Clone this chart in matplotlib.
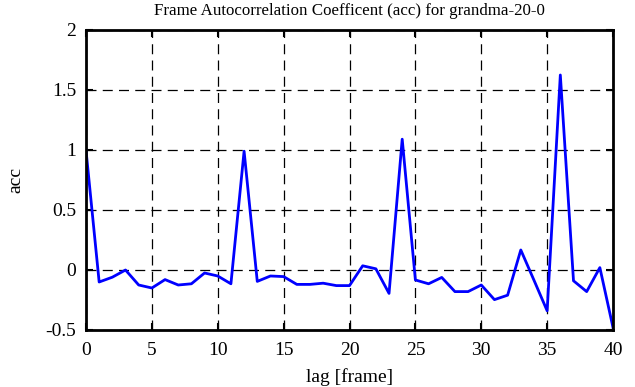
import matplotlib
matplotlib.use("Agg")
from matplotlib import pyplot, ticker

lag = list(range(41))
acc = [
    1.0, -0.10, -0.06, 0.0, -0.125, -0.15, -0.08, -0.125, -0.115, -0.025,
    -0.05, -0.115, 0.99, -0.095, -0.05, -0.055, -0.12, -0.12, -0.11, -0.13,
    -0.13, 0.035, 0.01, -0.195, 1.09, -0.083, -0.115, -0.062, -0.18, -0.18,
    -0.125, -0.247, -0.21, 0.167, -0.085, -0.34, 1.625, -0.09, -0.18, 0.02,
    -0.48,
]
xticks = [0, 5, 10, 15, 20, 25, 30, 35, 40]
yticks = [-0.5, 0, 0.5, 1, 1.5, 2]
yticklabels = ["-0.5", "0", "0.5", "1", "1.5", "2"]


def main():
    pyplot.rcParams["font.family"] = ["Liberation Serif", "DejaVu Serif"]
    pyplot.rcParams["font.size"] = 14

    fig, ax = pyplot.subplots(figsize=(6.35, 3.87), dpi=100)
    fig.subplots_adjust(left=0.1354, bottom=0.1473, right=0.9654, top=0.9225)

    ax.plot(lag, acc, color="#0000ff", linewidth=2)

    ax.set_xlim(0, 40)
    ax.set_ylim(-0.5, 2)
    ax.set_xticks(xticks)
    ax.set_yticks(yticks)
    ax.set_yticklabels(yticklabels)
    ax.xaxis.set_minor_locator(ticker.NullLocator())

    ax.grid(True, color="black", linestyle=(0, (8, 5)), linewidth=0.9)
    ax.tick_params(direction="in", top=True, right=True, length=5, width=1.5,
                   labelsize=14)
    ax.tick_params(axis="x", pad=9)
    ax.tick_params(axis="y", pad=7)
    for spine in ax.spines.values():
        spine.set_linewidth(2)

    ax.set_title("Frame Autocorrelation Coefficent (acc) for grandma-20-0",
                 fontsize=12.2, pad=11)
    ax.set_xlabel("lag [frame]", labelpad=6)
    ax.set_ylabel("acc", labelpad=15)

    fig.savefig("out.png")


if __name__ == "__main__":
    main()
